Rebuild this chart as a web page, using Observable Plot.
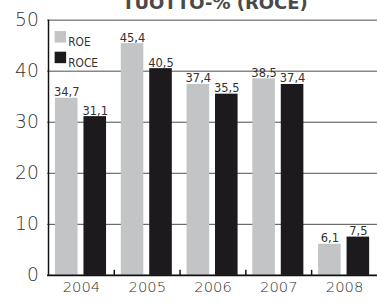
<!DOCTYPE html>
<html>
<head>
<meta charset="utf-8">
<script src="https://cdn.jsdelivr.net/npm/d3@7"></script>
<script src="https://cdn.jsdelivr.net/npm/@observablehq/plot@0.6"></script>
<style>
  html, body { margin: 0; padding: 0; background: #fff; overflow: hidden; width: 377px; height: 303px; }
  #wrap { position: relative; width: 377px; height: 303px; overflow: hidden; }
  #title { position: absolute; left: 0; width: 430px; top: -6px; text-align: center; font-family: "DejaVu Sans", sans-serif; font-weight: bold; font-size: 18px; line-height: 18px; color: #4a4a4a; }
  #chart { position: absolute; left: 0; top: 0; }
</style>
</head>
<body>
<div id="wrap">
  <div id="title">TUOTTO-% (ROCE)</div>
  <div id="chart"></div>
</div>
<script>
const years = ["2004", "2005", "2006", "2007", "2008"];
const roe = [34.7, 45.4, 37.4, 38.5, 6.1];
const roce = [31.1, 40.5, 35.5, 37.4, 7.5];
const series = ["ROE", "ROCE"];
const yTicks = [0, 10, 20, 30, 40, 50];

const colors = {ROE: "#c3c4c6", ROCE: "#1c1a1c"};
const roeData = years.map((y, i) => ({year: y, value: roe[i]}));
const roceData = years.map((y, i) => ({year: y, value: roce[i]}));
const fmt = v => String(v.toFixed(1)).replace(".", ",");

const W = 384, ML = 48;
const halfBand = (W - ML) / years.length / 2;

const chart = Plot.plot({
  width: W,
  height: 303,
  marginLeft: ML,
  marginRight: 0,
  marginTop: 20,
  marginBottom: 23,
  style: {fontFamily: "DejaVu Sans, sans-serif", background: "transparent"},
  x: {type: "band", domain: years, padding: 0, label: null},
  y: {domain: [0, 50], label: null},
  marks: [
    Plot.ruleY(yTicks, {stroke: "#4a4a4a", strokeWidth: 1}),
    Plot.barY(roeData, {x: "year", y: "value", fill: colors.ROE, insetLeft: 7, insetRight: 37}),
    Plot.barY(roceData, {x: "year", y: "value", fill: colors.ROCE, insetLeft: 36, insetRight: 8}),
    Plot.text(roeData, {x: "year", y: "value", text: d => fmt(d.value), dx: -15, dy: -2, lineAnchor: "bottom", fontSize: 13, fill: "#333", fontFamily: "DejaVu Sans Condensed"}),
    Plot.text(roceData, {x: "year", y: "value", text: d => fmt(d.value), dx: 14, dy: -2, lineAnchor: "bottom", fontSize: 13, fill: "#333", fontFamily: "DejaVu Sans Condensed"}),
    Plot.ruleY([0], {stroke: "#111", strokeWidth: 2}),
    Plot.ruleX(years.slice(1), {x: d => d, dx: -halfBand, y1: 0, y2: 1, stroke: "#111", strokeWidth: 1.5}),
    Plot.ruleX(years.slice(0, 1), {x: d => d, dx: -halfBand, y1: 0, y2: 50, stroke: "#111", strokeWidth: 1.5}),
    Plot.axisY(yTicks, {tickSize: 0, tickPadding: 9, fontSize: 19, fill: "#333", fontWeight: 200, label: null}),
    Plot.axisX({tickSize: 0, tickPadding: 6, fontSize: 15, fill: "#333", fontWeight: 200, label: null}),
    Plot.dot([series[0]], {frameAnchor: "top-left", dx: 13, dy: 17, symbol: "square", r: 6.6, fill: colors.ROE}),
    Plot.dot([series[1]], {frameAnchor: "top-left", dx: 13, dy: 38, symbol: "square", r: 6.6, fill: colors.ROCE}),
    Plot.text([series[0]], {frameAnchor: "top-left", dx: 21, dy: 18, text: d => d, textAnchor: "start", fontSize: 12, fill: "#333", fontFamily: "DejaVu Sans Condensed"}),
    Plot.text([series[1]], {frameAnchor: "top-left", dx: 21, dy: 39, text: d => d, textAnchor: "start", fontSize: 12, fill: "#333", fontFamily: "DejaVu Sans Condensed"})
  ]
});
document.getElementById("chart").appendChild(chart);
</script>
</body>
</html>
